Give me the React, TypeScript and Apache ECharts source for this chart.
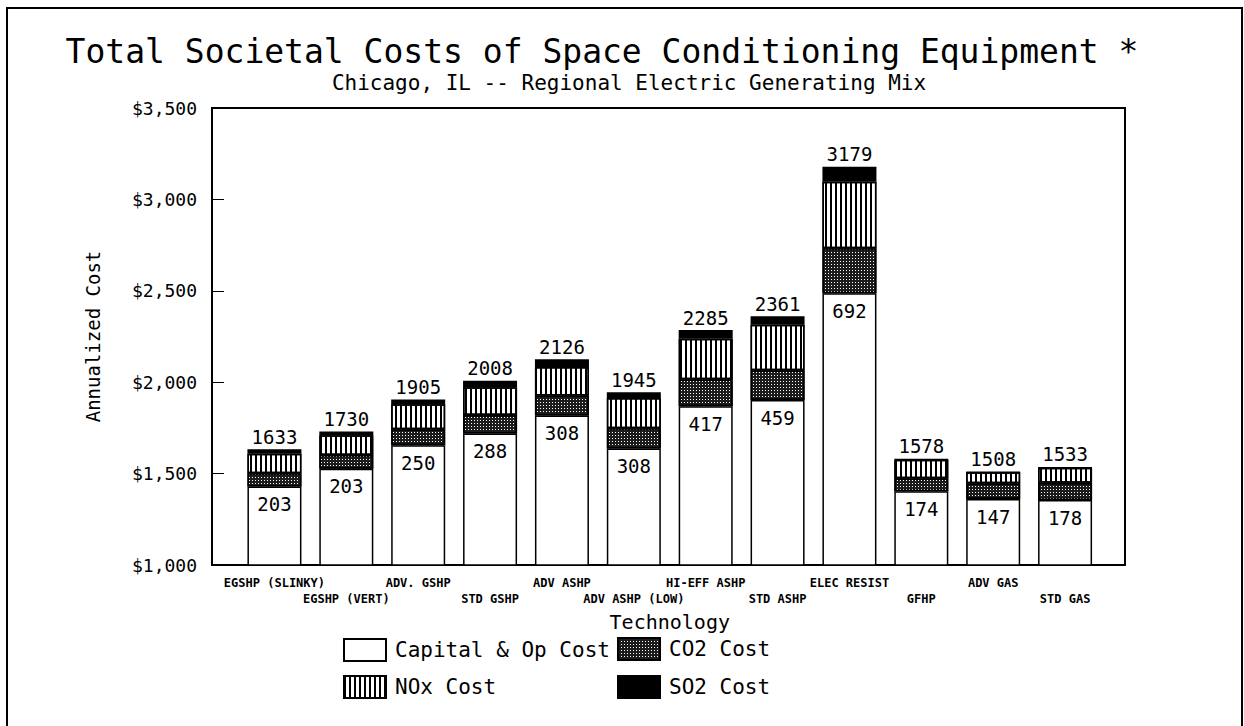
import React, { useEffect, useRef } from "react";
import * as echarts from "echarts";

const categories = [
  "EGSHP (SLINKY)",
  "EGSHP (VERT)",
  "ADV. GSHP",
  "STD GSHP",
  "ADV ASHP",
  "ADV ASHP (LOW)",
  "HI-EFF ASHP",
  "STD ASHP",
  "ELEC RESIST",
  "GFHP",
  "ADV GAS",
  "STD GAS",
];
const totals = [1633, 1730, 1905, 2008, 2126, 1945, 2285, 2361, 3179, 1578, 1508, 1533];
const externalTotals = [203, 203, 250, 288, 308, 308, 417, 459, 692, 174, 147, 178];
const capitalOp = [1430, 1527, 1655, 1720, 1818, 1637, 1868, 1902, 2487, 1404, 1361, 1355];
const co2Cost = [72, 75, 88, 100, 109, 111, 148, 163, 246, 70, 86, 95];
const noxCost = [106, 108, 136, 153, 156, 165, 222, 249, 364, 102, 60, 82];
const so2Cost = [25, 20, 26, 35, 43, 32, 47, 47, 82, 2, 1, 1];

const FONT = "'DejaVu Sans Mono', 'Liberation Mono', monospace";

export default function App() {
  const ref = useRef<HTMLDivElement>(null);

  useEffect(() => {
    if (!ref.current) return;
    const chart = echarts.init(ref.current, undefined, { renderer: "svg" });

    const border = { borderColor: "#000", borderWidth: 1.5 };
    const legendBase = {
      itemWidth: 42,
      itemHeight: 22,
      itemGap: 0,
      padding: 0,
      icon: "rect",
      selectedMode: false,
      textStyle: { fontFamily: FONT, fontSize: 21, color: "#000", padding: [0, 0, 0, 4] },
    };

    const option: any = {
      animation: false,
      backgroundColor: "#fff",
      graphic: [
        {
          type: "rect",
          z: -10,
          shape: { x: 7, y: 8, width: 1235, height: 740 },
          style: { fill: "none", stroke: "#000", lineWidth: 2 },
        },
        {
          type: "text",
          x: 602,
          y: 51,
          style: {
            text: "Total Societal Costs of Space Conditioning Equipment *",
            fontFamily: FONT,
            fontSize: 33,
            fill: "#000",
            align: "center",
            verticalAlign: "middle",
          },
        },
        {
          type: "text",
          x: 629,
          y: 83,
          style: {
            text: "Chicago, IL -- Regional Electric Generating Mix",
            fontFamily: FONT,
            fontSize: 21,
            fill: "#000",
            align: "center",
            verticalAlign: "middle",
          },
        },
      ],
      legend: [
        { ...legendBase, data: ["Capital & Op Cost"], left: 343, top: 638 },
        { ...legendBase, data: ["CO2 Cost"], left: 617, top: 637 },
        { ...legendBase, data: ["NOx Cost"], left: 343, top: 675 },
        { ...legendBase, data: ["SO2 Cost"], left: 617, top: 675 },
      ],
      grid: [
        {
          left: 212,
          top: 108,
          width: 913,
          height: 457,
          show: true,
          borderColor: "#000",
          borderWidth: 2,
          backgroundColor: "transparent",
        },
        { left: 238.5, top: 108, width: 862.5, height: 457 },
      ],
      xAxis: [
        { gridIndex: 0, type: "value", min: 0, max: 1, show: false },
        {
          gridIndex: 1,
          type: "category",
          data: categories,
          axisLine: { show: false },
          axisTick: { show: false },
          axisLabel: {
            interval: 0,
            margin: 10,
            fontFamily: FONT,
            fontSize: 12,
            fontWeight: "bold",
            lineHeight: 16,
            color: "#000",
            formatter: (v: string, i: number) => (i % 2 ? "\n" + v : v),
          },
          name: "Technology",
          nameLocation: "middle",
          nameGap: 43,
          nameTextStyle: { fontFamily: FONT, fontSize: 20, color: "#000" },
        },
      ],
      yAxis: [
        {
          gridIndex: 0,
          type: "value",
          min: 1000,
          max: 3500,
          interval: 500,
          splitLine: { show: false },
          axisLine: { show: true, lineStyle: { color: "#000", width: 2 } },
          axisTick: { show: true, inside: true, length: 12, lineStyle: { color: "#000", width: 1 } },
          axisLabel: {
            margin: 15,
            fontFamily: FONT,
            fontSize: 18,
            color: "#000",
            formatter: (v: number) => "$" + v.toLocaleString("en-US"),
          },
          name: "Annualized Cost",
          nameLocation: "middle",
          nameGap: 110,
          nameTextStyle: { fontFamily: FONT, fontSize: 19, color: "#000" },
        },
        { gridIndex: 1, type: "value", min: 1000, max: 3500, interval: 500, show: false },
      ],
      series: [
        {
          name: "Capital & Op Cost",
          type: "bar",
          stack: "cost",
          xAxisIndex: 1,
          yAxisIndex: 1,
          barWidth: 54,
          data: capitalOp,
          itemStyle: { color: "#fff", ...border },
          label: {
            show: true,
            position: "insideTop",
            distance: 8,
            fontFamily: FONT,
            fontSize: 19,
            color: "#000",
            formatter: (p: any) => String(externalTotals[p.dataIndex]),
          },
        },
        {
          name: "CO2 Cost",
          type: "bar",
          stack: "cost",
          xAxisIndex: 1,
          yAxisIndex: 1,
          barWidth: 54,
          data: co2Cost,
          itemStyle: {
            color: "#1c1c1c",
            ...border,
            decal: {
              symbol: "rect",
              symbolSize: 1,
              symbolKeepAspect: false,
              color: "#ffffff",
              dashArrayX: [1, 2],
              dashArrayY: [1, 2],
            },
          },
        },
        {
          name: "NOx Cost",
          type: "bar",
          stack: "cost",
          xAxisIndex: 1,
          yAxisIndex: 1,
          barWidth: 54,
          data: noxCost,
          itemStyle: {
            color: "#fff",
            ...border,
            decal: {
              symbol: "rect",
              symbolSize: 1,
              symbolKeepAspect: false,
              color: "#000",
              dashArrayX: [2, 3],
              dashArrayY: [4, 0],
            },
          },
        },
        {
          name: "SO2 Cost",
          type: "bar",
          stack: "cost",
          xAxisIndex: 1,
          yAxisIndex: 1,
          barWidth: 54,
          data: so2Cost,
          itemStyle: { color: "#000", ...border },
          label: {
            show: true,
            position: "top",
            distance: 3,
            fontFamily: FONT,
            fontSize: 19,
            color: "#000",
            formatter: (p: any) => String(totals[p.dataIndex]),
          },
        },
      ],
    };

    chart.setOption(option);
    return () => chart.dispose();
  }, []);

  return (
    <div
      ref={ref}
      style={{ position: "absolute", left: 0, top: 0, width: 1244, height: 726 }}
    />
  );
}
